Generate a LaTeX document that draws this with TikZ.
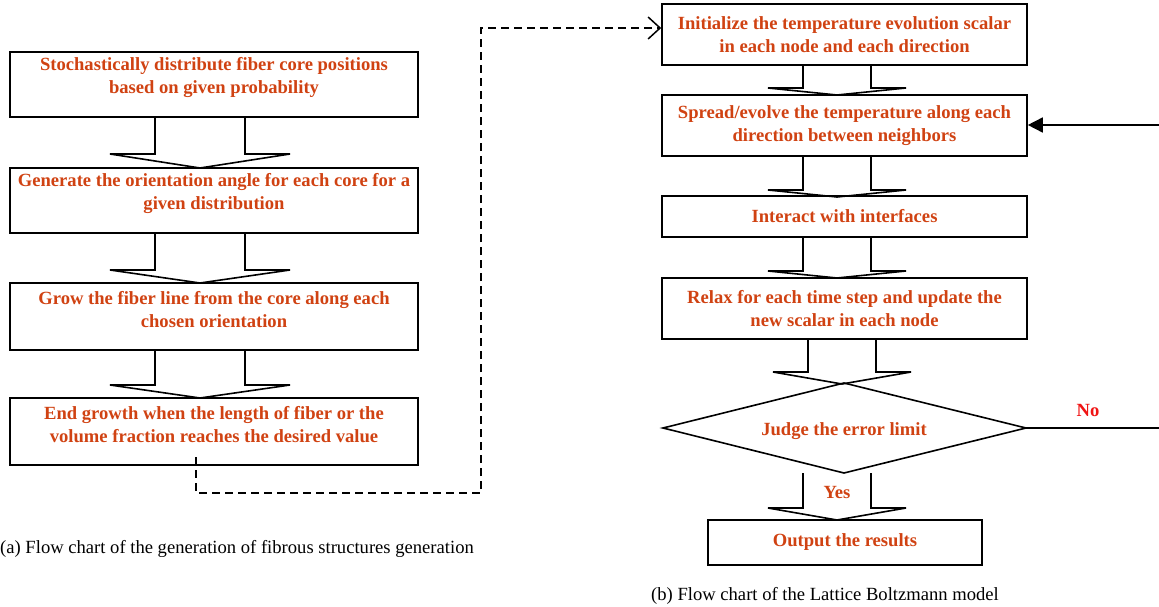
\documentclass[tikz,border=0pt]{standalone}
\usepackage{fontspec}
\setmainfont{Liberation Serif}
\usetikzlibrary{arrows.meta,calc}
\definecolor{txtred}{RGB}{208,66,18}
\definecolor{nored}{RGB}{240,20,20}
\newcommand\blkarrow[6]{% cx, shaft half width, wing half width, y top, y wing, y tip
  \draw[line width=1.6pt,line join=miter]
    (#1-#2,#4) -- (#1-#2,#5) -- (#1-#3,#5) -- (#1,#6) -- (#1+#3,#5) -- (#1+#2,#5) -- (#1+#2,#4);}
\begin{document}
\begin{tikzpicture}[x=1pt,y=-1pt,
  box/.style={draw,line width=1.6pt,inner sep=0pt},
  txt/.style={text=txtred,font=\fontsize{18.6}{22.5}\selectfont\bfseries,align=center},
  captxt/.style={font=\fontsize{18.6}{22}\selectfont,inner sep=0pt}]
\useasboundingbox (0,0) rectangle (1159,607);
% left column
\node[box,minimum width=408pt,minimum height=65pt] (L1) at (214,84.5) {};
\node[txt] at ([yshift=7pt]L1.center) {Stochastically distribute fiber core positions\\based on given probability};
\node[box,minimum width=408pt,minimum height=65pt] (L2) at (214,200.5) {};
\node[txt] at ([yshift=7pt]L2.center) {Generate the orientation angle for each core for a\\given distribution};
\node[box,minimum width=408pt,minimum height=67pt] (L3) at (214,316.5) {};
\node[txt] at ([yshift=7pt]L3.center) {Grow the fiber line from the core along each\\chosen orientation};
\node[box,minimum width=408pt,minimum height=67pt] (L4) at (214,431.5) {};
\node[txt] at ([yshift=7pt]L4.center) {End growth when the length of fiber or the\\volume fraction reaches the desired value};
\blkarrow{200}{45}{90}{117}{154}{168}
\blkarrow{200}{45}{90}{233}{270}{283}
\blkarrow{200}{45}{90}{350}{385}{398}
% right column
\node[box,minimum width=365pt,minimum height=61pt] (R1) at (844.5,34.5) {};
\node[txt] at (R1.center) {Initialize the temperature evolution scalar\\in each node and each direction};
\node[box,minimum width=365pt,minimum height=61pt] (R2) at (844.5,125.5) {};
\node[txt] at (R2.center) {Spread/evolve the temperature along each\\direction between neighbors};
\node[box,minimum width=365pt,minimum height=41pt] (R3) at (844.5,216.5) {};
\node[txt] at (R3.center) {Interact with interfaces};
\node[box,minimum width=365pt,minimum height=61pt] (R4) at (844.5,308.5) {};
\node[txt] at (R4.center) {Relax for each time step and update the\\new scalar in each node};
\coordinate (dia) at (844,428);
\draw[line width=1.6pt,line join=miter] (663,428) -- (844,383) -- (1026,428) -- (844,473) -- cycle;
\coordinate (diaE) at (1026,428);
\node[txt] at ([yshift=-3pt]dia) {Judge the error limit};
\node[box,minimum width=274pt,minimum height=45pt] (OUT) at (845,542.5) {};
\node[txt] at (OUT.center) {Output the results};
\blkarrow{837}{34}{69}{64.5}{88}{95}
\blkarrow{837}{34}{69}{156}{190}{197}
\blkarrow{837}{34}{69}{237}{271}{278}
\blkarrow{842}{34}{69}{339}{372}{384}
\blkarrow{837}{34}{69}{473}{508}{520}
\node[txt] at (837,492) {Yes};
% feedback
\draw[line width=1.6pt,-{Triangle[length=15pt,width=15pt]}] (diaE) -- (1160,428) -- (1160,125) -- (R2.east |- {(0,125)});
\node[txt,text=nored] at (1088,410) {No};
% dashed connector
\coordinate (ds) at (196,457);
\draw[line width=1.5pt,dash pattern=on 8pt off 5pt,-{Straight Barb[length=12pt,width=22pt,line width=1.5pt]}]
  (ds) -- (196,493) -- (481,493) -- (481,28) -- (R1.west |- {(0,28)});
% captions
\node[captxt,anchor=west] at (0,549) {(a) Flow chart of the generation of fibrous structures generation};
\node[captxt,anchor=west] at (651,596) {(b) Flow chart of the Lattice Boltzmann model};
\end{tikzpicture}
\end{document}
